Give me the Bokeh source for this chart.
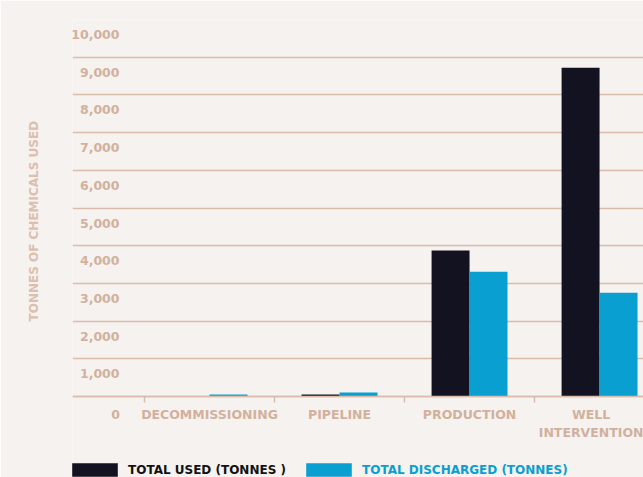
from bokeh.plotting import figure
from bokeh.models import (ColumnDataSource, Range1d, LinearAxis, FixedTicker,
                          NumeralTickFormatter, Legend, LegendItem, Label, Grid, Title)
from bokeh.transform import dodge
from bokeh.embed import file_html
from bokeh.resources import INLINE

# ---- data ----
categories = ["DECOMMISSIONING", "PIPELINE", "PRODUCTION", "WELL\nINTERVENTION"]
total_used = [0, 55, 3870, 8720]
total_discharged = [55, 105, 3310, 2755]
y_tick_values = [0, 1000, 2000, 3000, 4000, 5000, 6000, 7000, 8000, 9000, 10000]
series_labels = ["TOTAL USED (TONNES )", "TOTAL DISCHARGED (TONNES)"]
y_title = "TONNES OF CHEMICALS USED"

# ---- style ----
BG = "#f6f2ef"
GRID = "#d9bcab"
TAN = "#d1b19d"
TITLE_TAN = "#dcbfae"
DARK = "#121221"
BLUE = "#099fd1"
FONT = "DejaVu Sans"

# layout: 0 sits at 396px, 10000 at 19px; frame runs to the bottom edge (477px)
Y_MAX = 10000
Y_LO = -Y_MAX * 81 / 377
LABEL_SHIFT = 400  # tick labels sit ~15px below their gridlines

xpos = list(range(len(categories)))
src = ColumnDataSource(dict(x=xpos, used=total_used, discharged=total_discharged))

p = figure(width=643, height=477, output_backend="svg", toolbar_location=None,
           x_range=Range1d(-1.054, 3.338), y_range=Range1d(Y_LO, Y_MAX),
           y_axis_location=None,
           min_border_left=72, min_border_right=0, min_border_top=19, min_border_bottom=0,
           background_fill_color=BG, border_fill_color=BG, outline_line_color=None)
p.grid.grid_line_color = None

p.add_layout(Grid(dimension=1, ticker=FixedTicker(ticks=y_tick_values),
                  grid_line_color=GRID, grid_line_width=1.5))

p.extra_y_ranges = {"lab": Range1d(Y_LO + LABEL_SHIFT, Y_MAX + LABEL_SHIFT)}
yax = LinearAxis(y_range_name="lab", ticker=FixedTicker(ticks=y_tick_values[1:]),
                 formatter=NumeralTickFormatter(format="0,0"),
                 major_tick_out=0, major_tick_in=0, minor_tick_out=0, minor_tick_in=0,
                 axis_line_color=None, major_label_standoff=-47,
                 major_label_text_font=FONT, major_label_text_font_style="bold",
                 major_label_text_font_size="12.5px", major_label_text_color=TAN)
p.add_layout(yax, "left")

p.add_layout(Title(text=y_title, align="left", offset=156, vertical_align="top",
                   standoff=52, text_font=FONT, text_font_style="bold",
                   text_font_size="12px", text_color=TITLE_TAN), "left")

p.add_layout(Label(x=-0.69, y=y_tick_values[0], text=f"{y_tick_values[0]:,}",
                   text_align="right", text_baseline="middle", y_offset=-18,
                   text_font=FONT, text_font_style="bold", text_font_size="12.5px",
                   text_color=TAN))

xax = p.xaxis[0]
xax.fixed_location = 0
xax.ticker = FixedTicker(ticks=xpos, minor_ticks=[i - 0.5 for i in xpos])
xax.major_label_overrides = {i: c for i, c in enumerate(categories)}
xax.major_tick_out = 0
xax.major_tick_in = 0
xax.minor_tick_out = 6
xax.minor_tick_in = 0
xax.minor_tick_line_color = GRID
xax.minor_tick_line_width = 1.5
xax.axis_line_color = GRID
xax.axis_line_width = 1.5
xax.major_label_standoff = 4
xax.major_label_text_font = FONT
xax.major_label_text_font_style = "bold"
xax.major_label_text_font_size = "12.5px"
xax.major_label_text_color = TAN

r1 = p.vbar(x=dodge("x", -0.146, range=p.x_range), top="used", width=0.292,
            source=src, fill_color=DARK, line_color=None)
r2 = p.vbar(x=dodge("x", 0.146, range=p.x_range), top="discharged", width=0.292,
            source=src, fill_color=BLUE, line_color=None)

def make_legend(label, r, color, xloc):
    return Legend(items=[LegendItem(label=label, renderers=[r])], location=(xloc, -1),
                  orientation="horizontal", glyph_width=57, glyph_height=17,
                  label_height=14, label_standoff=5, padding=0, margin=0, spacing=0,
                  border_line_color=None, background_fill_alpha=0,
                  label_text_font=FONT, label_text_font_style="bold",
                  label_text_font_size="12px", label_text_color=color)

p.add_layout(make_legend(series_labels[0], r1, "#111111", -6), "center")
p.add_layout(make_legend(series_labels[1], r2, BLUE, 228), "center")

open("out.html", "w").write(file_html(p, INLINE))
